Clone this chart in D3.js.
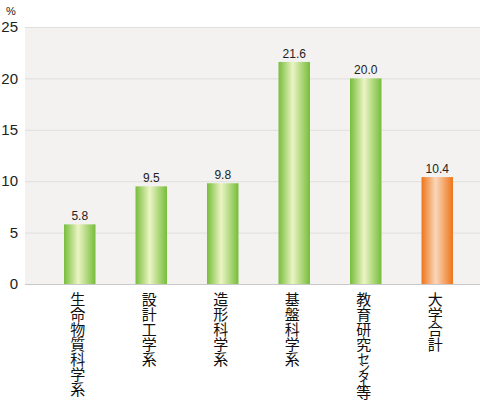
<!DOCTYPE html>
<html>
<head>
<meta charset="utf-8">
<script src="https://cdn.jsdelivr.net/npm/d3@7"></script>
<style>
  body { margin: 0; background: #fff; }
  svg { display: block; }
  .cat { writing-mode: vertical-rl; }
</style>
</head>
<body>
<div id="chart"></div>
<script>
// 学系別の割合 (%)

const categories = ["生命物質科学系", "設計工学系", "造形科学系", "基盤科学系", "教育研究センター等", "大学合計"];
const values = [5.8, 9.5, 9.8, 21.6, 20.0, 10.4];
const isTotal = [false, false, false, false, false, true];
const yTicks = [0, 5, 10, 15, 20, 25];

const width = 480,
    height = 402,
    margin = ({ top: 27, right: 0, bottom: 118, left: 25 });

const svg = d3.select("#chart")
    .append("svg")
    .attr("width", width)
    .attr("height", height);

const x = d3.scaleBand()
    .domain(categories)
    .range([44, 473])
    .paddingInner(0.56)
    .paddingOuter(0.28);

const y = d3.scaleLinear()
    .domain([0, 25])
    .range([height - margin.bottom, margin.top]);

// gradients for the bars
const defs = svg.append("defs");
function makeGrad(id, edge, mid) {
    const g = defs.append("linearGradient")
        .attr("id", id)
        .attr("x1", "0%").attr("x2", "100%")
        .attr("y1", "0%").attr("y2", "0%");
    g.append("stop").attr("offset", "0%").attr("stop-color", edge);
    g.append("stop").attr("offset", "45%").attr("stop-color", mid);
    g.append("stop").attr("offset", "100%").attr("stop-color", edge);
}
makeGrad("green", "#76bd3a", "#ecf4c4");
makeGrad("orange", "#ee7418", "#fad7bb");

// plot background
svg.append("rect")
    .attr("x", margin.left)
    .attr("y", margin.top)
    .attr("width", width - margin.left - margin.right)
    .attr("height", y(0) - margin.top)
    .attr("fill", "#f3f2f0");

// gridlines
svg.append("g")
    .selectAll("line")
    .data(yTicks)
    .join("line")
    .attr("x1", margin.left)
    .attr("x2", width - margin.right)
    .attr("y1", d => y(d) + 0.5)
    .attr("y2", d => y(d) + 0.5)
    .attr("stroke", d => d === 0 ? "#c8c8c8" : "#e0dfdc")
    .attr("stroke-width", 1);

// y tick labels
svg.append("g")
    .selectAll("text")
    .data(yTicks)
    .join("text")
    .attr("x", 18)
    .attr("y", d => y(d))
    .attr("dy", "0.35em")
    .attr("text-anchor", "end")
    .attr("font-family", "Liberation Sans, Arial, sans-serif")
    .attr("font-size", 15)
    .attr("fill", "#222")
    .text(d => d);

svg.append("text")
    .attr("x", 11)
    .attr("y", 15)
    .attr("text-anchor", "middle")
    .attr("font-family", "Liberation Sans, Arial, sans-serif")
    .attr("font-size", 11)
    .attr("fill", "#222")
    .text("%");

// bars
svg.append("g")
    .selectAll("rect")
    .data(categories)
    .join("rect")
    .attr("x", d => x(d))
    .attr("width", x.bandwidth())
    .attr("y", (d, i) => y(values[i]))
    .attr("height", (d, i) => y(0) - y(values[i]))
    .attr("fill", (d, i) => isTotal[i] ? "url(#orange)" : "url(#green)");

// value labels
svg.append("g")
    .selectAll("text")
    .data(categories)
    .join("text")
    .attr("x", d => x(d) + x.bandwidth() / 2)
    .attr("y", (d, i) => y(values[i]) - 4)
    .attr("text-anchor", "middle")
    .attr("font-family", "Liberation Sans, Arial, sans-serif")
    .attr("font-size", 12)
    .attr("fill", "#222")
    .text((d, i) => values[i].toFixed(1));

// category labels, vertical; kana are set a bit smaller and tighter like the original
function kanaStyle(c) {
    if (c === "ー") return { size: 13, ls: -7 };
    if (/[\u30a0-\u30ff]/.test(c)) return { size: 13, ls: -4 };
    return null;
}

svg.append("g")
    .selectAll("text")
    .data(categories)
    .join("text")
    .attr("class", "cat")
    .attr("x", d => x(d) + x.bandwidth() / 2 - 2)
    .attr("y", y(0) + 8)
    .attr("font-family", "Noto Sans CJK JP, sans-serif")
    .attr("font-size", 15)
    .attr("fill", "#111")
    .selectAll("tspan")
    .data(d => Array.from(d))
    .join("tspan")
    .attr("font-size", c => kanaStyle(c) ? kanaStyle(c).size : null)
    .style("letter-spacing", c => kanaStyle(c) ? kanaStyle(c).ls + "px" : null)
    .text(c => c);
</script>
</body>
</html>
